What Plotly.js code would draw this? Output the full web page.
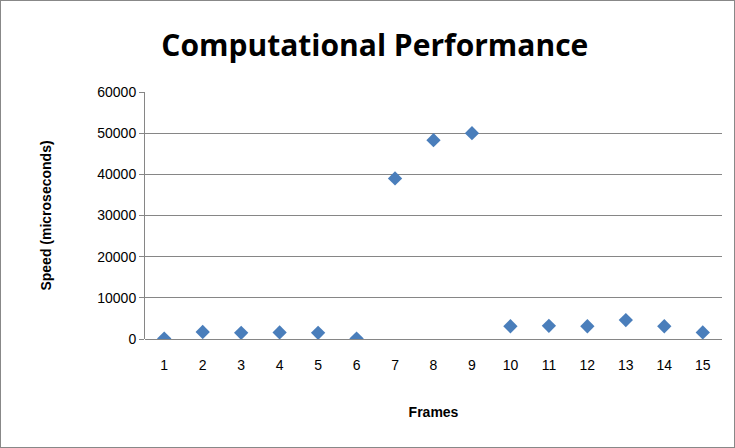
<!DOCTYPE html>
<html>
<head>
<script src="https://cdn.plot.ly/plotly-3.0.1.min.js"></script>
<style>body{margin:0}#chart{width:735px;height:448px;box-sizing:border-box;border:1px solid #888}</style>
</head>
<body>
<div id="chart"></div>
<script>
// Frames and measured speed
var frames = [1, 2, 3, 4, 5, 6, 7, 8, 9, 10, 11, 12, 13, 14, 15]
var speed = [100, 1700, 1500, 1600, 1500, 100, 39000, 48300, 50000, 3100, 3200, 3100, 4600, 3100, 1600]

var data = [{
  x: frames,
  y: speed,
  mode: 'markers',
  type: 'scatter',
  marker: {symbol: 'diamond', size: 11, color: '#4a7ebb'}
}]

var layout = {
  width: 733, height: 446,
  margin: {l: 144, r: 12, t: 91, b: 108},
  paper_bgcolor: '#fff', plot_bgcolor: '#fff',
  showlegend: false,
  font: {family: 'Liberation Sans, Arial, sans-serif', size: 14, color: '#000'},
  title: {text: '<b>Computational Performance</b>', font: {family: 'Open Sans, sans-serif', size: 30},
    x: 0.51, xanchor: 'center', y: 0.9, yanchor: 'middle'},
  xaxis: {
    range: [0.5, 15.5], tickvals: frames, showgrid: false, zeroline: false,
    showline: false, ticks: '', ticklen: 0, ticklabelstandoff: 16,
    title: {text: '<b>Frames</b>', font: {size: 14}, standoff: 35}
  },
  yaxis: {
    range: [0, 60000], dtick: 10000, showgrid: true, gridcolor: '#868686', zeroline: true,
    zerolinecolor: '#868686', showline: true, linecolor: '#868686', ticks: 'outside', ticklen: 5,
    tickcolor: '#868686', tickformat: 'd',
    title: {text: '<b>Speed (microseconds)</b>', font: {size: 14}, standoff: 42}
  }
}

Plotly.newPlot('chart', data, layout, {displayModeBar: false})
</script>
</body>
</html>
